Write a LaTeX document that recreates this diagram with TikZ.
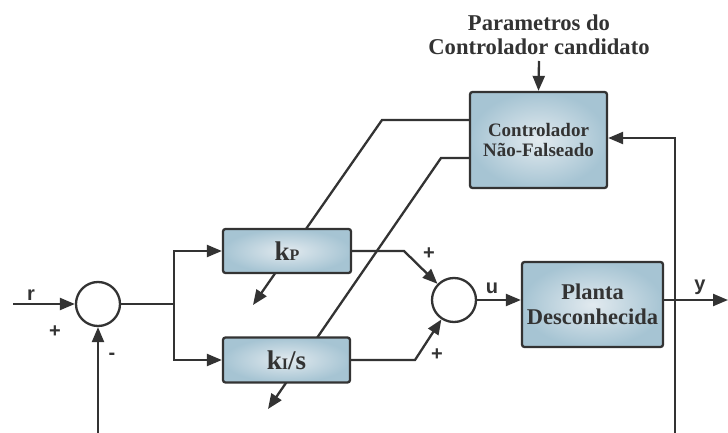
\documentclass[tikz,border=0pt]{standalone}
\usepackage{fontspec}
\setmainfont{Liberation Serif}
\setsansfont{Liberation Sans}
\usetikzlibrary{arrows.meta}
\definecolor{ink}{HTML}{333333}
\definecolor{boxin}{HTML}{E2EAEF}
\definecolor{boxout}{HTML}{A6C4D3}
\begin{document}
\begin{tikzpicture}[x=1pt,y=-1pt,
  wire/.style={draw=ink, line width=2.3pt, line join=miter},
  arr/.style={wire, -{Triangle[length=15pt,width=12pt]}},
  block/.style={draw=ink, line width=2.3pt, rounded corners=2.5pt,
    shading=radial, inner color=boxin, outer color=boxout,
    text=ink, align=center, inner sep=0pt},
  sumnode/.style={circle, draw=ink, line width=2.3pt, fill=white,
    minimum size=44pt, inner sep=0pt},
  lbl/.style={text=ink, font=\sffamily\bfseries\fontsize{20}{20}\selectfont, inner sep=0pt}]

% canvas
\fill[white] (0,0) rectangle (728,433);
\useasboundingbox (0,0) rectangle (728,433);

% controller block and its parameter input
\node[block, minimum width=137pt, minimum height=96pt,
  font=\bfseries\fontsize{19}{20.5}\selectfont] (ctrl) at (538.5,140)
  {Controlador\\Não-Falseado};
\node[text=ink, font=\bfseries\fontsize{22.6}{24}\selectfont, align=center, inner sep=0pt]
  (param) at (539,35) {Parametros do\\Controlador candidato};
\coordinate (paramEnd) at (539,61);
\draw[arr] (paramEnd) -- (ctrl.north);

% gain adjustment lines (run behind the gain blocks)
\coordinate (adaptP) at (253,305);
\coordinate (adaptI) at (268,409);
\draw[arr] (ctrl.west |- 0,120) -- (382,120) -- (adaptP);
\draw[arr] (ctrl.west |- 0,158) -- (441,158) -- (adaptI);

% gain blocks
\node[block, minimum width=128pt, minimum height=44pt,
  font=\bfseries\fontsize{27}{27}\selectfont] (kp) at (287,251)
  {k{\fontsize{16}{16}\selectfont P}};
\node[block, minimum width=127pt, minimum height=45pt,
  font=\bfseries\fontsize{27}{27}\selectfont] (ki) at (286.5,360)
  {k{\fontsize{16}{16}\selectfont I}/s};

% summing junctions and plant
\node[sumnode] (sum1) at (98,304) {};
\node[sumnode] (sum2) at (454,300) {};
\node[block, minimum width=141pt, minimum height=85pt,
  font=\bfseries\fontsize{22.5}{25}\selectfont] (planta) at (592.5,304.5)
  {Planta\\Desconhecida};

% reference input and error feedback
\coordinate (rin) at (13,304);
\coordinate (fbLeft) at (98,433);
\draw[arr] (rin) -- (sum1.west);
\draw[arr] (fbLeft) -- (sum1.south);

% branch to the gain blocks
\coordinate (split) at (174,304);
\draw[wire] (sum1.east) -- (split);
\draw[arr] (split) |- (kp.west);
\draw[arr] (split) |- (ki.west);

% gain outputs into the second junction
\draw[arr] (kp.east) -- (404,251) -- (sum2);
\draw[arr] (ki.east) -- (415,360) -- (sum2);

% control signal and plant output
\draw[arr] (sum2.east) -- (planta.west |- sum2.east);
\coordinate (yout) at (728,300);
\draw[arr] (planta.east |- yout) -- (yout);

% output feedback to the controller
\coordinate (fbRight) at (675,433);
\draw[arr] (fbRight) -- (675,138) -- (ctrl.east |- 0,138);

% signal labels
\node[lbl] (lr) at (31,295) {r};
\node[lbl] (lp1) at (55,332) {+};
\node[lbl] (lm1) at (112,356) {-};
\node[lbl] (lp2) at (429,254) {+};
\node[lbl] (lp3) at (437,355) {+};
\node[lbl] (lu) at (492,288) {u};
\node[lbl] (ly) at (700,287) {y};
\end{tikzpicture}
\end{document}
